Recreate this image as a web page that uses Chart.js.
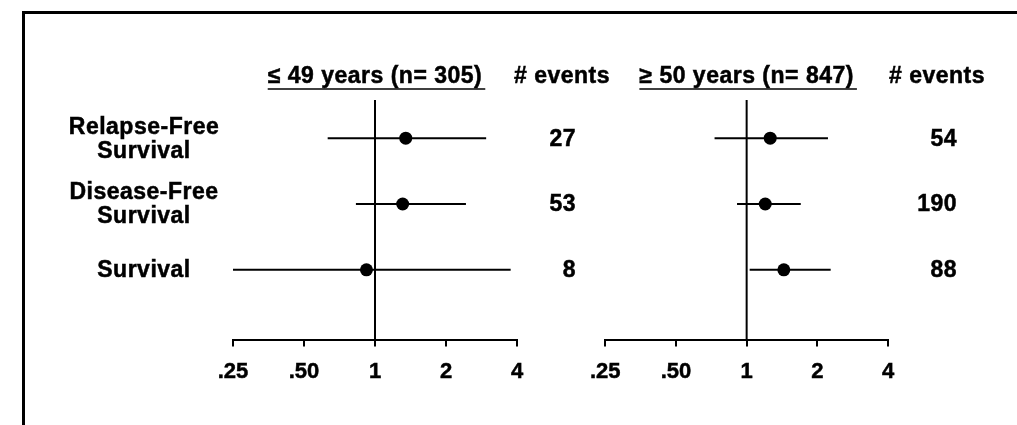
<!DOCTYPE html>
<html>
<head>
<meta charset="utf-8">
<script src="https://cdn.jsdelivr.net/npm/chart.js@4"></script>
<style>
  body { margin: 0; background: #fff; width: 1017px; height: 425px; overflow: hidden; position: relative; }
  #frame { position: absolute; left: 22px; top: 11px; width: 1000px; height: 420px; border-top: 3px solid #000; border-left: 3px solid #000; }
  canvas { position: absolute; top: 14px; }
</style>
</head>
<body>
<div id="frame"></div>
<canvas id="young" width="605" height="411" style="left:25px"></canvas>
<canvas id="old" width="439" height="411" style="left:578px"></canvas>
<script>

const rowLabels = [["Relapse-Free", "Survival"], ["Disease-Free", "Survival"], ["Survival"]];
const rowPos = [1, 2, 3];
const tickValues = [0.25, 0.5, 1, 2, 4];
const tickLabels = [".25", ".50", "1", "2", "4"];
const eventsTitle = "# events";

const youngTitle = "\u2264 49 years (n= 305)";
const youngHR = [1.35, 1.31, 0.92];
const youngLower = [0.63, 0.83, 0.25];
const youngUpper = [2.96, 2.43, 3.76];
const youngEvents = [27, 53, 8];

const oldTitle = "\u2265 50 years (n= 847)";
const oldHR = [1.26, 1.20, 1.44];
const oldLower = [0.73, 0.91, 1.03];
const oldUpper = [2.22, 1.70, 2.28];
const oldEvents = [54, 190, 88];

const FONT = "'Liberation Sans', Arial, Helvetica, sans-serif";

function bold(size){
  return "bold " + size + "px " + FONT;
}

// fill + thin stroke so the text reads as heavy as the scanned original
function heavyText(ctx, str, x, y){
  ctx.fillText(str, x, y);
  ctx.strokeText(str, x, y);
}

function forestPlot(id, title, hr, lower, upper, events, opts){

  const datasets = [];

  for (let i = 0; i < hr.length; i++){
    datasets.push({
      type: "line",
      data: [{x: lower[i], y: rowPos[i]}, {x: upper[i], y: rowPos[i]}],
      borderColor: "#000",
      borderWidth: 2,
      pointRadius: 0,
      clip: false
    });
  }

  datasets.push({
    type: "scatter",
    data: hr.map((v, i) => ({x: v, y: rowPos[i]})),
    pointRadius: 6.5,
    backgroundColor: "#000",
    borderColor: "#000",
    borderWidth: 0,
    clip: false
  });

  const textLayer = {
    id: "textLayer",
    beforeDatasetsDraw(chart){
      const ctx = chart.ctx;
      const area = chart.chartArea;
      const one = chart.scales.x.getPixelForValue(1);
      ctx.save();
      ctx.strokeStyle = "#000";
      ctx.lineWidth = 2;
      ctx.beginPath();
      ctx.moveTo(one, area.top);
      ctx.lineTo(one, area.bottom);
      ctx.stroke();
      ctx.restore();
    },
    afterDraw(chart){
      const ctx = chart.ctx;
      const area = chart.chartArea;
      const yScale = chart.scales.y;
      const one = chart.scales.x.getPixelForValue(1);

      ctx.save();
      ctx.fillStyle = "#000";
      ctx.strokeStyle = "#000";
      ctx.textBaseline = "middle";
      ctx.font = bold(23);
      ctx.letterSpacing = "0.5px";
      ctx.lineWidth = 0.5;

      // panel title, underlined
      ctx.textAlign = "center";
      heavyText(ctx, title, one, area.top - 23);
      heavyText(ctx, eventsTitle, area.right + opts.eventsHead, area.top - 23);

      const w = ctx.measureText(title).width;
      ctx.lineWidth = 1.5;
      ctx.beginPath();
      ctx.moveTo(one - w / 2, area.top - 11);
      ctx.lineTo(one + w / 2 + 3, area.top - 11);
      ctx.stroke();
      ctx.lineWidth = 0.5;

      // event counts
      ctx.textAlign = "right";
      events.forEach((n, i) => {
        heavyText(ctx, String(n), area.right + opts.eventsRight, yScale.getPixelForValue(rowPos[i]) + 1);
      });

      // row labels
      if (opts.showLabels){
        ctx.textAlign = "center";
        rowLabels.forEach((lines, i) => {
          const yc = yScale.getPixelForValue(rowPos[i]);
          lines.forEach((line, j) => {
            heavyText(ctx, line, area.left - 89, yc + (j - (lines.length - 1) / 2) * 24 + 1);
          });
        });
      }
      ctx.restore();
    }
  };

  return new Chart(id, {
    type: "scatter",
    data: { datasets: datasets },
    options: {
      responsive: false,
      animation: false,
      layout: { padding: opts.padding },
      plugins: { legend: {display: false}, tooltip: {enabled: false} },
      scales: {
        x: {
          type: "logarithmic",
          min: 0.25,
          max: 4,
          afterBuildTicks: (scale) => {
            scale.ticks = tickValues.map(v => ({value: v}));
          },
          ticks: {
            callback: (value, index) => tickLabels[index],
            font: { size: 22, weight: "bold", family: FONT },
            color: "#000",
            textStrokeColor: "#000",
            textStrokeWidth: 0.5,
            padding: 12,
            maxRotation: 0,
            autoSkip: false
          },
          grid: { drawOnChartArea: false, drawTicks: true, tickLength: 7, color: "#000", lineWidth: 2 },
          border: { color: "#000", width: 2 }
        },
        y: {
          type: "linear",
          display: false,
          reverse: true,
          min: 0.42,
          max: 4.06
        }
      }
    },
    plugins: [textLayer]
  });

}

forestPlot("young", youngTitle, youngHR, youngLower, youngUpper, youngEvents,
  { showLabels: true, eventsHead: 45, eventsRight: 59, padding: {left: 208, right: 113, top: 86, bottom: 28} });

forestPlot("old", oldTitle, oldHR, oldLower, oldUpper, oldEvents,
  { showLabels: false, eventsHead: 49, eventsRight: 69, padding: {left: 20, right: 129, top: 86, bottom: 28} });

</script>
</body>
</html>
